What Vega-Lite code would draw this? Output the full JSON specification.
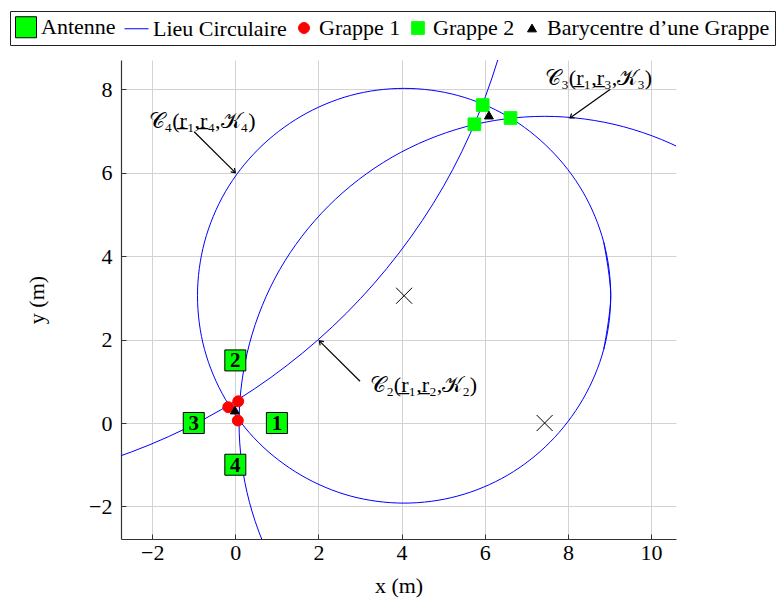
{
  "$schema": "https://vega.github.io/schema/vega-lite/v6.json",
  "width": 555,
  "height": 479,
  "autosize": {"type": "none"},
  "padding": {"left": 121, "top": 60, "right": 103, "bottom": 62},
  "background": "white",
  "config": {
    "view": {"stroke": null},
    "font": "Liberation Serif",
    "axis": {
      "grid": true,
      "gridColor": "#d3d3d3",
      "gridWidth": 1,
      "domainColor": "#333333",
      "domainWidth": 1.2,
      "tickColor": "#333333",
      "tickSize": -5,
      "tickWidth": 1,
      "labelFont": "Liberation Serif",
      "labelFontSize": 22,
      "labelColor": "black",
      "titleFont": "Liberation Serif",
      "titleFontSize": 22,
      "titleFontWeight": "normal",
      "titleColor": "black"
    },
    "legend": {
      "labelFont": "Liberation Serif",
      "labelFontSize": 22,
      "labelColor": "black",
      "labelLimit": 0,
      "symbolStrokeWidth": 1,
      "symbolOpacity": 1
    }
  },
  "datasets": {
    "circles": [
      {"c": "C4", "i": 0, "x": 8.86, "y": 1.76},
      {"c": "C4", "i": 1, "x": 9.03, "y": 3.05},
      {"c": "C4", "i": 2, "x": 8.86, "y": 4.34},
      {"c": "C4", "i": 3, "x": 8.36, "y": 5.54},
      {"c": "C4", "i": 4, "x": 7.57, "y": 6.56},
      {"c": "C4", "i": 5, "x": 6.55, "y": 7.35},
      {"c": "C4", "i": 6, "x": 5.35, "y": 7.85},
      {"c": "C4", "i": 7, "x": 4.06, "y": 8.02},
      {"c": "C4", "i": 8, "x": 2.77, "y": 7.85},
      {"c": "C4", "i": 9, "x": 1.58, "y": 7.35},
      {"c": "C4", "i": 10, "x": 0.55, "y": 6.56},
      {"c": "C4", "i": 11, "x": -0.24, "y": 5.54},
      {"c": "C4", "i": 12, "x": -0.74, "y": 4.34},
      {"c": "C4", "i": 13, "x": -0.91, "y": 3.05},
      {"c": "C4", "i": 14, "x": -0.74, "y": 1.76},
      {"c": "C4", "i": 15, "x": -0.24, "y": 0.57},
      {"c": "C4", "i": 16, "x": 0.55, "y": -0.46},
      {"c": "C4", "i": 17, "x": 1.58, "y": -1.25},
      {"c": "C4", "i": 18, "x": 2.77, "y": -1.75},
      {"c": "C4", "i": 19, "x": 4.06, "y": -1.92},
      {"c": "C4", "i": 20, "x": 5.35, "y": -1.75},
      {"c": "C4", "i": 21, "x": 6.55, "y": -1.25},
      {"c": "C4", "i": 22, "x": 7.57, "y": -0.46},
      {"c": "C4", "i": 23, "x": 8.36, "y": 0.57},
      {"c": "C4", "i": 24, "x": 8.86, "y": 1.76},
      {"c": "C4", "i": 25, "x": 9.03, "y": 3.05},
      {"c": "C4", "i": 26, "x": 8.86, "y": 4.34},
      {"c": "C3", "i": 0, "x": 12.64, "y": 5.20},
      {"c": "C3", "i": 1, "x": 11.12, "y": 6.37},
      {"c": "C3", "i": 2, "x": 9.34, "y": 7.10},
      {"c": "C3", "i": 3, "x": 7.44, "y": 7.35},
      {"c": "C3", "i": 4, "x": 5.54, "y": 7.10},
      {"c": "C3", "i": 5, "x": 3.77, "y": 6.37},
      {"c": "C3", "i": 6, "x": 2.24, "y": 5.20},
      {"c": "C3", "i": 7, "x": 1.07, "y": 3.68},
      {"c": "C3", "i": 8, "x": 0.34, "y": 1.90},
      {"c": "C3", "i": 9, "x": 0.09, "y": 0},
      {"c": "C3", "i": 10, "x": 0.34, "y": -1.90},
      {"c": "C3", "i": 11, "x": 1.07, "y": -3.68},
      {"c": "C3", "i": 12, "x": 2.24, "y": -5.20},
      {"c": "C2", "i": 0, "x": -7.63, "y": -1.63},
      {"c": "C2", "i": 1, "x": -3.86, "y": -1.13},
      {"c": "C2", "i": 2, "x": -0.34, "y": 0.32},
      {"c": "C2", "i": 3, "x": 2.68, "y": 2.64},
      {"c": "C2", "i": 4, "x": 5.00, "y": 5.66},
      {"c": "C2", "i": 5, "x": 6.45, "y": 9.18},
      {"c": "C2", "i": 6, "x": 6.95, "y": 12.95}
    ],
    "points": [
      {"series": "Antenne", "x": 1, "y": 0, "label": "1"},
      {"series": "Antenne", "x": 0, "y": 1.5, "label": "2"},
      {"series": "Antenne", "x": -1, "y": 0, "label": "3"},
      {"series": "Antenne", "x": 0, "y": -1, "label": "4"},
      {"series": "Grappe 1", "x": -0.17, "y": 0.38, "label": ""},
      {"series": "Grappe 1", "x": 0.07, "y": 0.52, "label": ""},
      {"series": "Grappe 1", "x": 0.06, "y": 0.06, "label": ""},
      {"series": "Grappe 2", "x": 5.95, "y": 7.62, "label": ""},
      {"series": "Grappe 2", "x": 5.75, "y": 7.16, "label": ""},
      {"series": "Grappe 2", "x": 6.62, "y": 7.31, "label": ""},
      {"series": "Barycentre d’une Grappe", "x": -0.01, "y": 0.31, "label": ""},
      {"series": "Barycentre d’une Grappe", "x": 6.10, "y": 7.38, "label": ""}
    ],
    "centres": [
      {"x": 4.06, "y": 3.05},
      {"x": 7.44, "y": 0}
    ],
    "arrows": [
      {"name": "C4", "x": -0.99, "y": 6.98, "x2": 0.0, "y2": 6.0},
      {"name": "C3", "x": 9.02, "y": 8.0, "x2": 8.05, "y2": 7.31},
      {"name": "C2", "x": 3.0, "y": 1.0, "x2": 2.02, "y2": 1.97}
    ],
    "arrowLabels": [
      {"x": -0.80, "y": 7.25, "text": "𝒞₄(r̲₁,r̲₄,𝒦₄)"},
      {"x": 8.74, "y": 8.28, "text": "𝒞₃(r̲₁,r̲₃,𝒦₃)"},
      {"x": 4.53, "y": 0.92, "text": "𝒞₂(r̲₁,r̲₂,𝒦₂)"}
    ]
  },
  "layer": [
    {
      "data": {"name": "circles"},
      "mark": {"type": "line", "clip": true, "color": "#0000ff", "strokeWidth": 1, "interpolate": "catmull-rom"},
      "encoding": {
        "x": {"field": "x", "type": "quantitative", "scale": {"domain": [-2.75, 10.6], "nice": false, "zero": false},
              "axis": {"values": [-2, 0, 2, 4, 6, 8, 10], "title": "x (m)", "labelPadding": 8, "titlePadding": 12}},
        "y": {"field": "y", "type": "quantitative", "scale": {"domain": [-2.78, 8.7], "nice": false, "zero": false},
              "axis": {"values": [-2, 0, 2, 4, 6, 8], "title": "y (m)", "labelPadding": 14, "titlePadding": 40}},
        "detail": {"field": "c"},
        "order": {"field": "i", "type": "quantitative"}
      }
    },
    {
      "data": {"name": "arrows"},
      "mark": {"type": "rule", "color": "black", "strokeWidth": 1.2},
      "encoding": {
        "x": {"field": "x", "type": "quantitative", "scale": {"domain": [-2.75, 10.6], "nice": false, "zero": false}},
        "y": {"field": "y", "type": "quantitative", "scale": {"domain": [-2.78, 8.7], "nice": false, "zero": false}},
        "x2": {"field": "x2"},
        "y2": {"field": "y2"}
      }
    },
    {
      "data": {"name": "arrows"},
      "transform": [{"calculate": "atan2(-(datum.y2 - datum.y), datum.x2 - datum.x) * 180 / PI", "as": "ang"}],
      "mark": {"type": "point", "shape": "M-1,-0.7L0,0L-1,0.7", "filled": false, "stroke": "black", "strokeWidth": 1.2, "size": 60, "opacity": 1},
      "encoding": {
        "x": {"field": "x2", "type": "quantitative", "scale": {"domain": [-2.75, 10.6], "nice": false, "zero": false}},
        "y": {"field": "y2", "type": "quantitative", "scale": {"domain": [-2.78, 8.7], "nice": false, "zero": false}},
        "angle": {"field": "ang", "type": "quantitative", "scale": null}
      }
    },
    {
      "data": {"name": "arrowLabels"},
      "mark": {"type": "text", "font": "Liberation Serif", "fontSize": 22, "color": "black", "align": "center", "baseline": "middle"},
      "encoding": {
        "x": {"field": "x", "type": "quantitative", "scale": {"domain": [-2.75, 10.6], "nice": false, "zero": false}},
        "y": {"field": "y", "type": "quantitative", "scale": {"domain": [-2.78, 8.7], "nice": false, "zero": false}},
        "text": {"field": "text"}
      }
    },
    {
      "data": {"name": "centres"},
      "mark": {"type": "point", "shape": "M-1,-1L1,1M-1,1L1,-1", "filled": false, "stroke": "black", "strokeWidth": 1, "size": 256, "opacity": 1},
      "encoding": {
        "x": {"field": "x", "type": "quantitative", "scale": {"domain": [-2.75, 10.6], "nice": false, "zero": false}},
        "y": {"field": "y", "type": "quantitative", "scale": {"domain": [-2.78, 8.7], "nice": false, "zero": false}}
      }
    },
    {
      "data": {"name": "points"},
      "mark": {"type": "point", "filled": true, "opacity": 1, "strokeWidth": 1},
      "encoding": {
        "x": {"field": "x", "type": "quantitative", "scale": {"domain": [-2.75, 10.6], "nice": false, "zero": false}},
        "y": {"field": "y", "type": "quantitative", "scale": {"domain": [-2.78, 8.7], "nice": false, "zero": false}},
        "shape": {"field": "series", "type": "nominal",
          "scale": {"domain": ["Antenne", "Lieu Circulaire", "Grappe 1", "Grappe 2", "Barycentre d’une Grappe"],
                    "range": ["square", "stroke", "circle", "square", "triangle-up"]},
          "legend": {"title": null, "orient": "none", "legendX": -111, "legendY": -49, "direction": "horizontal",
                     "strokeColor": "#222222", "fillColor": "white", "padding": 5, "columnPadding": 6, "labelOffset": 4}},
        "fill": {"field": "series", "type": "nominal",
          "scale": {"domain": ["Antenne", "Lieu Circulaire", "Grappe 1", "Grappe 2", "Barycentre d’une Grappe"],
                    "range": ["#00ff00", "#0000ff", "#ff0000", "#00ff00", "#000000"]}},
        "stroke": {"field": "series", "type": "nominal",
          "scale": {"domain": ["Antenne", "Lieu Circulaire", "Grappe 1", "Grappe 2", "Barycentre d’une Grappe"],
                    "range": ["#000000", "#0000ff", "#ff0000", "#00ff00", "#000000"]}},
        "size": {"field": "series", "type": "nominal",
          "scale": {"type": "ordinal", "domain": ["Antenne", "Lieu Circulaire", "Grappe 1", "Grappe 2", "Barycentre d’une Grappe"],
                    "range": [441, 576, 120, 160, 80]}}
      }
    },
    {
      "data": {"name": "points"},
      "transform": [{"filter": "datum.label != ''"}],
      "mark": {"type": "text", "font": "Liberation Serif", "fontSize": 21, "fontWeight": "bold", "color": "black", "align": "center", "baseline": "middle", "dy": 1},
      "encoding": {
        "x": {"field": "x", "type": "quantitative", "scale": {"domain": [-2.75, 10.6], "nice": false, "zero": false}},
        "y": {"field": "y", "type": "quantitative", "scale": {"domain": [-2.78, 8.7], "nice": false, "zero": false}},
        "text": {"field": "label"}
      }
    }
  ]
}
